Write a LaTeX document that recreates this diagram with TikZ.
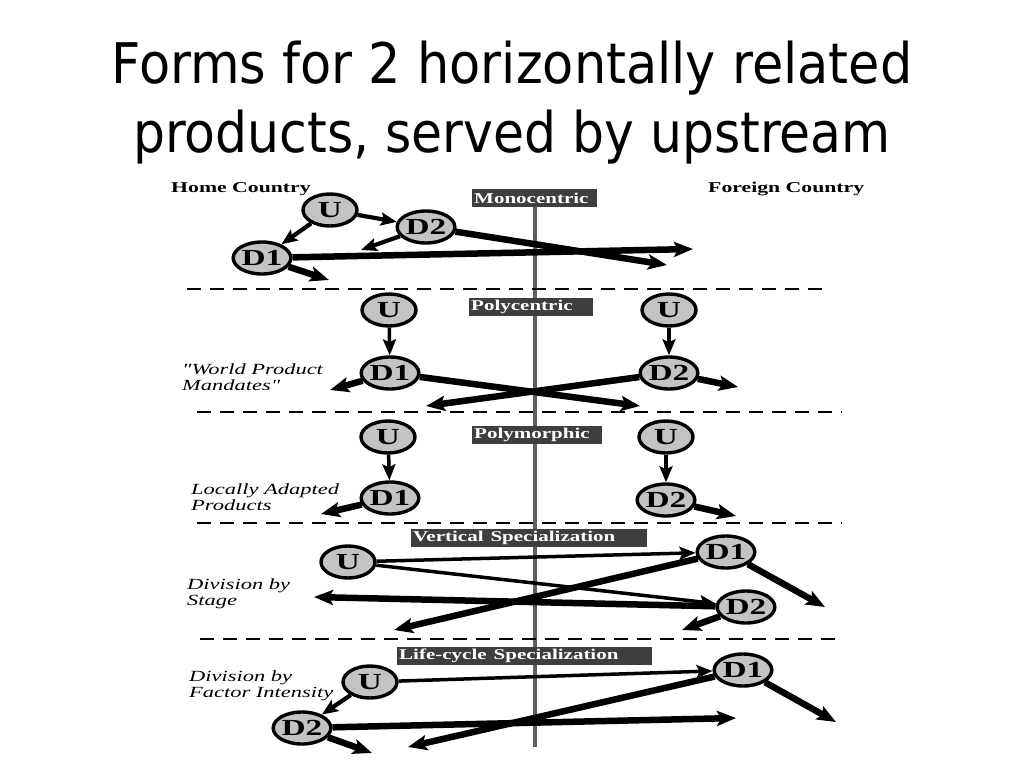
\documentclass[tikz,border=0pt]{standalone}
\usepackage{fontspec}
\setmainfont{Liberation Serif}
\newfontfamily\titlefont{DejaVu Sans}
\usetikzlibrary{shapes.geometric,arrows.meta}
\definecolor{nodegray}{RGB}{195,195,195}
\definecolor{boxgray}{RGB}{62,62,62}
\definecolor{vgray}{RGB}{95,95,95}
\newcommand{\wtx}[1]{\scalebox{1.45}[1]{#1}}
\newcommand{\btx}[1]{\scalebox{1.4}[1]{#1}}
\tikzset{
  nd/.style={ellipse, draw, line width=3.4pt, fill=nodegray, minimum width=54pt, minimum height=32pt, inner sep=0pt, font=\bfseries\fontsize{23}{23}\selectfont},
  thk/.style={line width=6.5pt, -{Stealth[length=19pt,width=15pt,inset=4pt]}},
  med/.style={line width=4.2pt, -{Stealth[length=16pt,width=13pt,inset=3pt]}},
  thn/.style={line width=3.5pt, -{Stealth[length=16pt,width=13pt,inset=3pt]}},
  lbl/.style={font=\itshape\fontsize{15.5}{15.5}\selectfont, anchor=base west, inner sep=0pt},
  ctry/.style={font=\bfseries\fontsize{15}{15}\selectfont, anchor=base west, inner sep=0pt},
  boxst/.style={fill=boxgray, text=white, anchor=north west, inner xsep=2pt, inner ysep=0pt, minimum height=18pt, align=left, font=\bfseries\fontsize{15}{15}\selectfont},
  dashln/.style={line width=2.2pt, dash pattern=on 14pt off 9pt},
  vln/.style={line width=3.5pt, draw=vgray}
}
\begin{document}
\begin{tikzpicture}[x=1pt,y=-1pt]
\useasboundingbox (0,0) rectangle (1024,768);
\fill[white] (0,0) rectangle (1024,768);

% title
\node[anchor=base, inner sep=0pt, font=\titlefont\fontsize{56}{56}\selectfont] (title1) at (512,83) {\scalebox{0.91}[1]{Forms for 2 horizontally related}};
\node[anchor=base, inner sep=0pt, font=\titlefont\fontsize{56}{56}\selectfont] (title2) at (512,152) {\scalebox{0.90}[1]{products, served by upstream}};

% vertical divider and dashed separators
\draw[vln] (535,200) -- (535,747);
\draw[dashln] (187,289) -- (830,289);
\draw[dashln] (197,412) -- (842,412);
\draw[dashln] (197,523) -- (842,523);
\draw[dashln] (200,639) -- (842,639);

% headings
\node[ctry] (home) at (171,192) {\wtx{Home Country}};
\node[ctry] (foreign) at (708,192) {\wtx{Foreign Country}};

% section boxes
\node[boxst, text width=121pt] (mono) at (472,189) {\btx{Monocentric}};
\node[boxst, text width=120pt] (poly) at (469,298) {\btx{Polycentric}};
\node[boxst, text width=126pt] (morph) at (472,426) {\btx{Polymorphic}};
\node[boxst, text width=232pt] (vert) at (411,529) {\btx{Vertical Specialization}};
\node[boxst, text width=251pt] (life) at (397,647) {\btx{Life-cycle Specialization}};

% side labels
\node[lbl] (wpm1) at (182,374) {\wtx{\textquotedbl World Product}};
\node[lbl] (wpm2) at (182,390) {\wtx{Mandates\textquotedbl}};
\node[lbl] (lap1) at (191,494) {\wtx{Locally Adapted}};
\node[lbl] (lap2) at (191,510) {\wtx{Products}};
\node[lbl] (dbs1) at (187,589) {\wtx{Division by}};
\node[lbl] (dbs2) at (187,605) {\wtx{Stage}};
\node[lbl] (dfi1) at (189,681) {\wtx{Division by}};
\node[lbl] (dfi2) at (189,697) {\wtx{Factor Intensity}};

% ---- Monocentric
\node[nd] (Ua) at (330,210) {\wtx{U}};
\node[nd] (D2a) at (426,227) {\wtx{D2}};
\node[nd] (D1a) at (262,258) {\wtx{D1}};
\coordinate (a1) at (361,250);
\coordinate (a2) at (667,265);
\coordinate (a3) at (693,249);
\coordinate (a4) at (329,280);
\draw[med] (Ua) -- (D2a);
\draw[med] (Ua) -- (D1a);
\draw[med] (D2a) -- (a1);
\draw[thk] (D2a) -- (a2);
\draw[thk] (D1a) -- (a3);
\draw[thk] (D1a) -- (a4);

% ---- Polycentric
\node[nd] (UbL) at (389,310) {\wtx{U}};
\node[nd] (UbR) at (669,310) {\wtx{U}};
\node[nd] (D1b) at (390,373) {\wtx{D1}};
\node[nd] (D2b) at (669,373) {\wtx{D2}};
\coordinate (b1) at (330,390);
\coordinate (b2) at (640,406);
\coordinate (b3) at (426,406);
\coordinate (b4) at (738,387);
\draw[thn] (UbL) -- (D1b);
\draw[thn] (UbR) -- (D2b);
\draw[thk] (D1b) -- (b1);
\draw[thk] (D1b) -- (b2);
\draw[thk] (D2b) -- (b3);
\draw[thk] (D2b) -- (b4);

% ---- Polymorphic
\node[nd] (UcL) at (388,437) {\wtx{U}};
\node[nd] (UcR) at (666,437) {\wtx{U}};
\node[nd] (D1c) at (390,498) {\wtx{D1}};
\node[nd] (D2c) at (666,500) {\wtx{D2}};
\coordinate (c1) at (321,514);
\coordinate (c2) at (736,516);
\draw[thn] (UcL) -- (D1c);
\draw[thn] (UcR) -- (D2c);
\draw[thk] (D1c) -- (c1);
\draw[thk] (D2c) -- (c2);

% ---- Vertical specialization
\node[nd] (Ud) at (348,562) {\wtx{U}};
\node[nd] (D1d) at (726,552) {\wtx{D1}};
\node[nd] (D2d) at (746,607) {\wtx{D2}};
\coordinate (d1) at (394,630);
\coordinate (d2) at (825,607);
\coordinate (d3) at (314,597);
\coordinate (d4) at (682,630);
\draw[thn] (Ud) -- (D1d);
\draw[thn] (Ud) -- (D2d);
\draw[thk] (D1d) -- (d1);
\draw[thk] (D1d) -- (d2);
\draw[thk] (D2d) -- (d3);
\draw[thk] (D2d) -- (d4);

% ---- Life-cycle specialization
\node[nd] (Ue) at (370,682) {\wtx{U}};
\node[nd] (D1e) at (743,670) {\wtx{D1}};
\node[nd] (D2e) at (302,728) {\wtx{D2}};
\coordinate (e1) at (408,747);
\coordinate (e2) at (836,722);
\coordinate (e3) at (736,718);
\coordinate (e4) at (372,753);
\draw[thn] (Ue) -- (D1e);
\draw[med] (Ue) -- (D2e);
\draw[thk] (D1e) -- (e1);
\draw[thk] (D1e) -- (e2);
\draw[thk] (D2e) -- (e3);
\draw[thk] (D2e) -- (e4);
\end{tikzpicture}
\end{document}
